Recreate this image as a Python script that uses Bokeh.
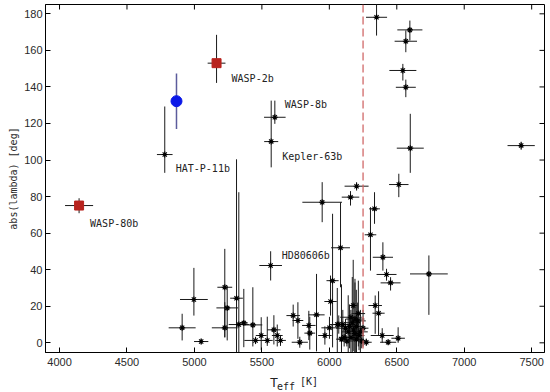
import math
from bokeh.plotting import figure
from bokeh.layouts import column
from bokeh.models import (ColumnDataSource, Range1d, FixedTicker, Span, LabelSet)
from bokeh.core.properties import value
from bokeh.embed import file_html
from bokeh.resources import INLINE

# ---------------- data ----------------
x_ticks = [4000, 4500, 5000, 5500, 6000, 6500, 7000, 7500]
y_ticks = [0, 20, 40, 60, 80, 100, 120, 140, 160, 180]

# black asterisk points: Teff, Teff error, |lambda|, upper / lower lambda error
teff = [6597, 6567, 6545, 6567, 6600, 7422, 6515, 6350, 6202, 6157,
        5947, 6083, 6024, 6335, 6305, 6397, 6424, 6454, 6009, 6738,
        6340, 6365, 6392, 6436, 6510, 6274, 5732, 5767, 5848, 5905,
        5855, 5781, 5967, 6001, 6059, 4996, 4909, 5050, 5225, 5243,
        5225, 5312, 5329, 5366, 5433, 5453, 5495, 5540, 5589, 5614,
        5638, 6177,
        6100, 6120, 6140, 6150, 6160, 6170, 6180, 6190, 6200, 6200,
        6210, 6220, 6230, 6240, 6130, 6110, 6190, 6250, 6070, 6090,
        6215, 6160,
        4780, 5596, 5569, 5565]
teff_err = [93, 83, 100, 74, 100, 101, 72, 78, 89, 65,
            147, 70, 45, 40, 43, 75, 74, 74, 46, 140,
            50, 45, 85, 60, 50, 40, 50, 40, 50, 60,
            40, 60, 50, 60, 60, 103, 100, 53, 55, 80,
            96, 47, 75, 30, 70, 83, 40, 40, 50, 40,
            40, 30,
            60, 70, 50, 60, 40, 60, 50, 45, 40, 50,
            60, 40, 55, 30, 50, 40, 70, 40, 70, 40,
            50, 80,
            58, 80, 52, 84]
lam = [171.2, 165.0, 149.0, 139.8, 106.5, 107.9, 86.6, 178.1, 85.7, 79.7,
       76.9, 52.0, 34.0, 73.3, 59.1, 46.8, 37.4, 32.8, 22.6, 37.7,
       20.4, 16.2, 4.0, 0.3, 2.5, 0.3, 14.9, 12.2, 9.5, 15.3,
       5.3, 0.3, 4.0, 8.2, 10.0, 23.7, 8.2, 0.7, 30.4, 19.1,
       8.2, 24.4, 10.0, 10.9, 9.8, 1.3, 4.0, 1.3, 7.1, 4.0,
       1.3, 20.4,
       10.0, 8.0, 6.0, 9.0, 3.0, 11.0, 7.0, 5.0, 2.0, 9.0,
       12.0, 4.0, 6.0, 1.0, 1.0, 3.0, 13.0, 8.0, 10.0, 2.0,
       16.0, 14.0,
       103.0, 123.4, 110.1, 42.3]
lam_up = [5.1, 5.9, 3.6, 4.2, 18.8, 2.1, 5.9, 10.0, 2.2, 3.3,
          11.0, 24.9, 36.6, 9.1, 15.1, 8.2, 3.1, 3.1, 14.2, 10.1,
          5.5, 12.0, 4.0, 1.5, 6.0, 2.0, 6.0, 10.0, 8.0, 22.4,
          9.0, 3.0, 5.0, 6.0, 20.0, 17.3, 7.7, 1.5, 21.0, 12.2,
          14.0, 76.0, 72.4, 18.6, 20.6, 2.0, 10.0, 13.0, 8.0, 6.0,
          3.0, 25.0,
          8.0, 5.0, 20.0, 12.0, 10.0, 25.0, 6.0, 30.0, 15.0, 20.0,
          10.0, 8.0, 12.0, 4.0, 3.0, 5.0, 20.0, 10.0, 5.0, 30.0,
          18.0, 4.0,
          26.3, 9.1, 22.4, 7.8]
lam_dn = [5.8, 6.0, 5.5, 5.4, 13.5, 2.3, 6.9, 10.0, 2.4, 4.6,
          10.9, 21.6, 36.5, 8.2, 19.6, 7.3, 3.4, 4.2, 7.7, 22.4,
          15.5, 12.0, 4.0, 1.5, 2.5, 2.0, 6.0, 10.0, 8.0, 20.0,
          9.0, 3.0, 5.0, 6.0, 20.0, 8.8, 6.9, 1.5, 27.4, 17.8,
          5.2, 76.0, 72.4, 13.3, 11.8, 2.0, 8.0, 3.0, 8.0, 6.0,
          3.0, 25.0,
          8.0, 5.0, 20.0, 12.0, 10.0, 25.0, 6.0, 30.0, 15.0, 20.0,
          10.0, 8.0, 12.0, 4.0, 3.0, 5.0, 20.0, 10.0, 5.0, 30.0,
          18.0, 4.0,
          10.0, 3.6, 14.1, 8.2]

# highlighted planets
blue_teff = [4867]
blue_lam = [132.2]
blue_lam_err = [15.2]

red_teff = [5164, 4145]
red_teff_err = [66, 104]
red_lam = [153.0, 75.1]
red_lam_up = [15.5, 4.0]
red_lam_dn = [10.8, 4.2]

label_names = ["WASP-2b", "HAT-P-11b", "WASP-8b", "Kepler-63b", "HD80606b", "WASP-80b"]
label_teff = [5164, 4780, 5596, 5569, 5565, 4145]
label_lam = [153.0, 103.0, 123.4, 110.1, 42.3, 75.1]

teff_limit = 6250

x_label_parts = ["T", "eff", "[K]"]

# ---------------- main figure ----------------
x_rng = Range1d(3896, 7595)
y_rng = Range1d(-5.3, 185.1)
p = figure(width=550, height=371, x_range=x_rng, y_range=y_rng,
           output_backend="svg", toolbar_location=None,
           min_border_left=45, min_border_right=6, min_border_top=4,
           min_border_bottom=19)
p.grid.visible = False
p.outline_line_color = "black"
p.outline_line_width = 1
p.background_fill_color = "white"
p.border_fill_color = "white"

for ax, ticks in ((p.xaxis[0], x_ticks), (p.yaxis[0], y_ticks)):
    ax.ticker = FixedTicker(ticks=ticks)
    ax.major_tick_in = 5
    ax.major_tick_out = 0
    ax.minor_tick_in = 0
    ax.minor_tick_out = 0
    ax.axis_line_color = "black"
    ax.major_tick_line_color = "black"
    ax.major_label_text_font = "Liberation Sans"
    ax.major_label_text_font_size = "11px"
    ax.major_label_text_color = "#2a2a2a"

p.xaxis[0].major_label_standoff = 5
p.yaxis[0].major_label_standoff = 3
p.yaxis[0].axis_label = "abs(lambda) [deg]"
p.yaxis[0].axis_label_text_font = "DejaVu Sans Mono"
p.yaxis[0].axis_label_text_font_size = "10px"
p.yaxis[0].axis_label_text_font_style = "normal"
p.yaxis[0].axis_label_text_color = "#2a2a2a"
p.yaxis[0].axis_label_standoff = 2

# inward mirror ticks on the top and right edges of the frame
p.scatter(x=x_ticks, y=[y_rng.end] * len(x_ticks), marker="dash", angle=math.pi / 2,
          size=10, line_color="black", line_width=1)
p.scatter(x=[x_rng.end] * len(y_ticks), y=y_ticks, marker="dash",
          size=10, line_color="black", line_width=1)

# dashed limit line
p.add_layout(Span(location=teff_limit, dimension="height", line_color="#d06868",
                  line_dash="8 4", line_width=1.3))

# error bars for black points
src = ColumnDataSource(dict(
    t=teff,
    t0=[t - e for t, e in zip(teff, teff_err)],
    t1=[t + e for t, e in zip(teff, teff_err)],
    l=lam,
    l0=[v - d for v, d in zip(lam, lam_dn)],
    l1=[v + u for v, u in zip(lam, lam_up)],
))
p.segment(x0="t0", y0="l", x1="t1", y1="l", source=src, line_color="#1a1a1a", line_width=1)
p.segment(x0="t", y0="l0", x1="t", y1="l1", source=src, line_color="#1a1a1a", line_width=1)
p.scatter(x="t", y="l", source=src, marker="asterisk", size=6,
          line_color="black", line_width=1.1)

# blue point
bsrc = ColumnDataSource(dict(
    t=blue_teff, l=blue_lam,
    l0=[v - e for v, e in zip(blue_lam, blue_lam_err)],
    l1=[v + e for v, e in zip(blue_lam, blue_lam_err)],
))
p.segment(x0="t", y0="l0", x1="t", y1="l1", source=bsrc, line_color="#5c5c9c", line_width=1.5)
p.scatter(x="t", y="l", source=bsrc, marker="circle", size=11,
          fill_color="#0b18e8", line_color="#0b18e8")

# red squares
rsrc = ColumnDataSource(dict(
    t=red_teff, l=red_lam,
    t0=[t - e for t, e in zip(red_teff, red_teff_err)],
    t1=[t + e for t, e in zip(red_teff, red_teff_err)],
    l0=[v - d for v, d in zip(red_lam, red_lam_dn)],
    l1=[v + u for v, u in zip(red_lam, red_lam_up)],
))
p.segment(x0="t0", y0="l", x1="t1", y1="l", source=rsrc, line_color="#1a1a1a", line_width=1)
p.segment(x0="t", y0="l0", x1="t", y1="l1", source=rsrc, line_color="#1a1a1a", line_width=1)
p.scatter(x="t", y="l", source=rsrc, marker="square", size=9,
          fill_color="#b8231e", line_color="#b8231e")

# planet name labels
lsrc = ColumnDataSource(dict(
    x=label_teff, y=label_lam, text=label_names,
    dx=[15, 11, 10, 11, 11, 11],
    dy=[-15, -14, 13, -15, 10, -18],
))
p.add_layout(LabelSet(x="x", y="y", text="text", source=lsrc,
                      x_offset="dx", y_offset="dy",
                      text_font=value("DejaVu Sans Mono"), text_font_size=value("10px"),
                      text_color="#222222", text_baseline="middle", text_align="left"))

# ---------------- strip below for the x-axis title (T_eff [K]) ----------------
# shares the x range, so its frame lines up with the main frame
q = figure(width=550, height=21, x_range=x_rng, y_range=Range1d(0, 21),
           output_backend="svg", toolbar_location=None,
           x_axis_type=None, y_axis_type=None, min_border=0)
q.grid.visible = False
q.outline_line_color = None
q.background_fill_color = "white"
q.border_fill_color = "white"
xm = (x_rng.start + x_rng.end) / 2
tsrc = ColumnDataSource(dict(
    x=[xm] * 3, y=[10, 6, 11], text=x_label_parts,
    dx=[-25, -18, 5],
    font=["Liberation Sans", "DejaVu Sans Mono", "DejaVu Sans Mono"],
    size=["13px", "10px", "10px"],
))
q.text(x="x", y="y", text="text", source=tsrc, x_offset="dx",
       text_font="font", text_font_size="size",
       text_color="#222222", text_baseline="alphabetic", text_align="left")

layout = column(p, q, spacing=0)
open("out.html", "w").write(file_html(layout, INLINE))
